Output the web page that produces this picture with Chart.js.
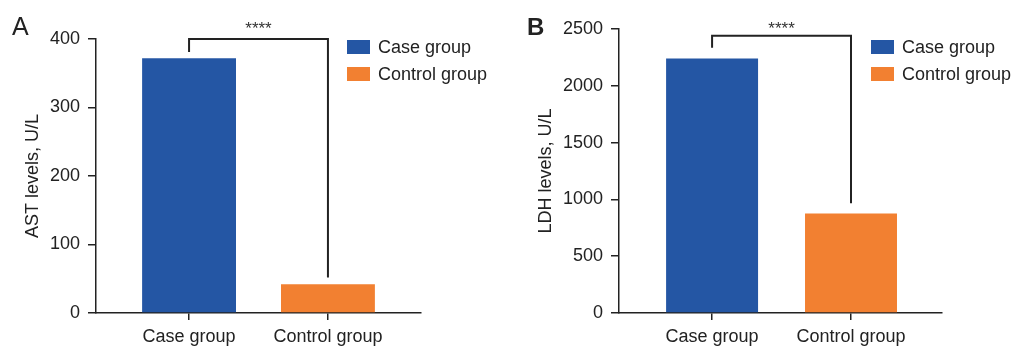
<!DOCTYPE html>
<html>
<head>
<meta charset="utf-8">
<script src="https://cdn.jsdelivr.net/npm/chart.js@4.4.0/dist/chart.umd.min.js"></script>
<style>
  body { margin: 0; background: #fff; width: 1018px; height: 348px; overflow: hidden; position: relative; }
  canvas { position: absolute; top: 0; }
</style>
</head>
<body>
<canvas id="chartA" width="509" height="348" style="left:0"></canvas>
<canvas id="chartB" width="509" height="348" style="left:509px"></canvas>
<script>
const groups = ["Case group", "Control group"];
const astLevels = [372, 42];
const ldhLevels = [2240, 875];
const astTicks = [0, 100, 200, 300, 400];
const ldhTicks = [0, 500, 1000, 1500, 2000, 2500];
// significance bracket: [bar height, left leg end, right leg end]
const astBracket = [400, 381, 52];
const ldhBracket = [2440, 2334, 966];
const colors = ["#2456a4", "#f28031"];

const ink = "#222";
const font = "'Liberation Sans', Arial, sans-serif";

// letter, stars, bracket and legend
const extras = {
  id: "extras",
  afterDraw(chart, args, o) {
    const ctx = chart.ctx;
    const x = chart.scales.x, y = chart.scales.y;
    ctx.save();
    // panel letter
    ctx.fillStyle = ink;
    ctx.font = o.letterFont + " " + font;
    ctx.textBaseline = "alphabetic";
    ctx.textAlign = "left";
    ctx.fillText(o.letter, o.letterX, 35);

    // bracket
    const x0 = x.getPixelForValue(0), x1 = x.getPixelForValue(1);
    const b = o.bracket;
    ctx.strokeStyle = ink;
    ctx.lineWidth = 2;
    ctx.beginPath();
    ctx.moveTo(x0, y.getPixelForValue(b[1]));
    ctx.lineTo(x0, y.getPixelForValue(b[0]));
    ctx.lineTo(x1, y.getPixelForValue(b[0]));
    ctx.lineTo(x1, y.getPixelForValue(b[2]));
    ctx.stroke();
    ctx.font = "17px " + font;
    ctx.textAlign = "center";
    ctx.fillStyle = "#333";
    ctx.fillText("****", (x0 + x1) / 2, 34);

    // legend
    ctx.font = "18px " + font;
    ctx.textAlign = "left";
    ctx.textBaseline = "middle";
    groups.forEach((g, i) => {
      const top = 40 + i * 27;
      ctx.fillStyle = colors[i];
      ctx.fillRect(o.legendX, top, 23, 14);
      ctx.fillStyle = ink;
      ctx.fillText(g, o.legendX + 31, top + 8);
    });
    ctx.restore();
  }
};

function makeChart(id, values, ticks, title, axisW, pad, titlePad, xRange, barPct, bracket, letter, letterX, letterFont, legendX) {
  return new Chart(document.getElementById(id), {
    type: "bar",
    data: {
      datasets: [{
        data: values.map((v, i) => ({ x: i, y: v })),
        backgroundColor: colors,
        barPercentage: barPct,
        categoryPercentage: 1,
      }],
    },
    options: {
      responsive: false,
      animation: false,
      layout: { padding: pad },
      plugins: {
        legend: { display: false },
        tooltip: { enabled: false },
        extras: { bracket, letter, letterX, letterFont, legendX },
      },
      scales: {
        x: {
          type: "linear",
          offset: false,
          min: xRange[0],
          max: xRange[1],
          afterBuildTicks: (s) => { s.ticks = groups.map((g, i) => ({ value: i })); },
          grid: { offset: false, drawOnChartArea: false, tickLength: 7, color: ink, lineWidth: 1.5 },
          border: { color: ink, width: 1.5 },
          ticks: { color: ink, font: { family: font, size: 18 }, padding: 6, maxRotation: 0, callback: (v) => groups[v] },
          afterFit: (s) => { s.height = 35; },
        },
        y: {
          min: 0,
          max: ticks[ticks.length - 1],
          afterBuildTicks: (s) => { s.ticks = ticks.map((v) => ({ value: v })); },
          grid: { drawOnChartArea: false, tickLength: 8, color: ink, lineWidth: 1.5 },
          border: { color: ink, width: 1.5 },
          ticks: { color: ink, font: { family: font, size: 18 }, padding: 8, callback: (v) => String(v) },
          title: { display: true, text: title, color: ink, font: { family: font, size: 18 }, padding: { top: titlePad, bottom: 0 } },
          afterFit: (s) => { s.width = axisW; },
        },
      },
    },
    plugins: [extras],
  });
}

makeChart("chartA", astLevels, astTicks, "AST levels, U/L", 96,
  { left: 0, top: 39, right: 88, bottom: 0 }, 22, [-0.67, 1.67], 0.676,
  astBracket, "A", 12, "25px", 347);
makeChart("chartB", ldhLevels, ldhTicks, "LDH levels, U/L", 110,
  { left: 0, top: 29, right: 76, bottom: 0 }, 26, [-0.67, 1.655], 0.662,
  ldhBracket, "B", 18, "bold 24px", 362);
</script>
</body>
</html>
